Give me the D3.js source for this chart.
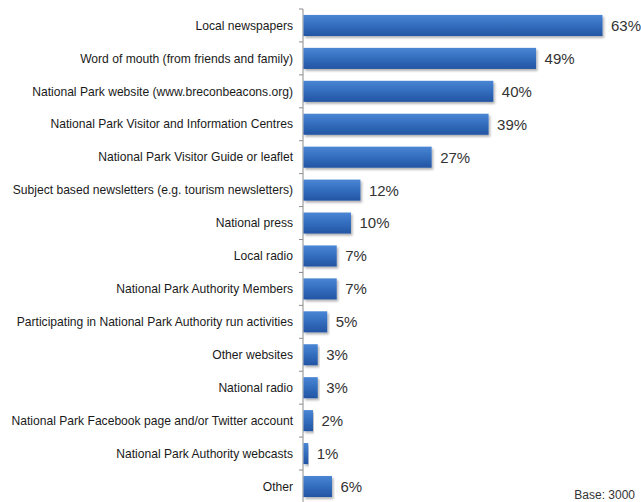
<!DOCTYPE html>
<html>
<head>
<meta charset="utf-8">
<script src="https://cdn.jsdelivr.net/npm/d3@7"></script>
<style>
  body { margin: 0; background: #fff; }
  text { font-family: "Liberation Sans", Arial, sans-serif; }
</style>
</head>
<body>
<div id="chart"></div>
<script>
// survey answers, in the order shown
let categories = [
    "Local newspapers",
    "Word of mouth (from friends and family)",
    "National Park website (www.breconbeacons.org)",
    "National Park Visitor and Information Centres",
    "National Park Visitor Guide or leaflet",
    "Subject based newsletters (e.g. tourism newsletters)",
    "National press",
    "Local radio",
    "National Park Authority Members",
    "Participating in National Park Authority run activities",
    "Other websites",
    "National radio",
    "National Park Facebook page and/or Twitter account",
    "National Park Authority webcasts",
    "Other"
]
let values = [63, 49, 40, 39, 27, 12, 10, 7, 7, 5, 3, 3, 2, 1, 6]
let baseNote = "Base: 3000"

var width = 641, height = 502
var margin = { top: 9, right: 0, bottom: 0, left: 303 }

var svg = d3.select("#chart")
    .append("svg")
    .attr("width", width)
    .attr("height", height)

var defs = svg.append("defs")
var grad = defs.append("linearGradient")
    .attr("id", "barGrad")
    .attr("x1", 0).attr("y1", 0).attr("x2", 0).attr("y2", 1)
grad.append("stop").attr("offset", "0%").attr("stop-color", "#4a86d4")
grad.append("stop").attr("offset", "45%").attr("stop-color", "#356fc0")
grad.append("stop").attr("offset", "100%").attr("stop-color", "#2355a3")

var shadow = defs.append("filter").attr("id", "shadow")
    .attr("x", "-5%").attr("y", "-20%").attr("width", "115%").attr("height", "160%")
shadow.append("feDropShadow")
    .attr("dx", 1.5).attr("dy", 2).attr("stdDeviation", 1.2)
    .attr("flood-color", "#000").attr("flood-opacity", 0.3)

var x = d3.scaleLinear()
    .domain([0, 63])
    .range([margin.left, 602])

var y = d3.scaleBand()
    .domain(categories)
    .range([margin.top, margin.top + 15 * 32.93])
    .paddingInner(0.36)
    .paddingOuter(0.18)

// category axis with ticks between bands
var step = y.step()
var axis = svg.append("g")
axis.append("line")
    .attr("x1", margin.left).attr("x2", margin.left)
    .attr("y1", margin.top).attr("y2", height)
    .attr("stroke", "#8c8c8c")
axis.selectAll(".tk")
    .data(d3.range(16))
    .enter()
    .append("line")
    .attr("x1", margin.left - 4).attr("x2", margin.left)
    .attr("y1", function (d) { return margin.top + d * step })
    .attr("y2", function (d) { return margin.top + d * step })
    .attr("stroke", "#8c8c8c")

svg.selectAll(".cat")
    .data(categories)
    .enter()
    .append("text")
    .attr("x", margin.left - 10)
    .attr("y", function (d) { return y(d) + y.bandwidth() / 2 })
    .attr("dy", "0.35em")
    .attr("text-anchor", "end")
    .attr("font-size", "12.1px")
    .attr("fill", "#1a1a1a")
    .text(function (d) { return d })

svg.selectAll(".bar")
    .data(values)
    .enter()
    .append("rect")
    .attr("x", x(0) + 0.5)
    .attr("y", function (d, i) { return y(categories[i]) })
    .attr("width", function (d) { return x(d) - x(0) })
    .attr("height", y.bandwidth())
    .attr("fill", "url(#barGrad)")
    .attr("filter", "url(#shadow)")

svg.selectAll(".val")
    .data(values)
    .enter()
    .append("text")
    .attr("x", function (d) { return x(d) + 9 })
    .attr("y", function (d, i) { return y(categories[i]) + y.bandwidth() / 2 })
    .attr("dy", "0.36em")
    .attr("font-size", "15px")
    .attr("fill", "#333")
    .text(function (d) { return d + "%" })

svg.append("text")
    .attr("x", 635)
    .attr("y", 499)
    .attr("text-anchor", "end")
    .attr("font-size", "12px")
    .attr("fill", "#333")
    .text(baseNote)
</script>
</body>
</html>
